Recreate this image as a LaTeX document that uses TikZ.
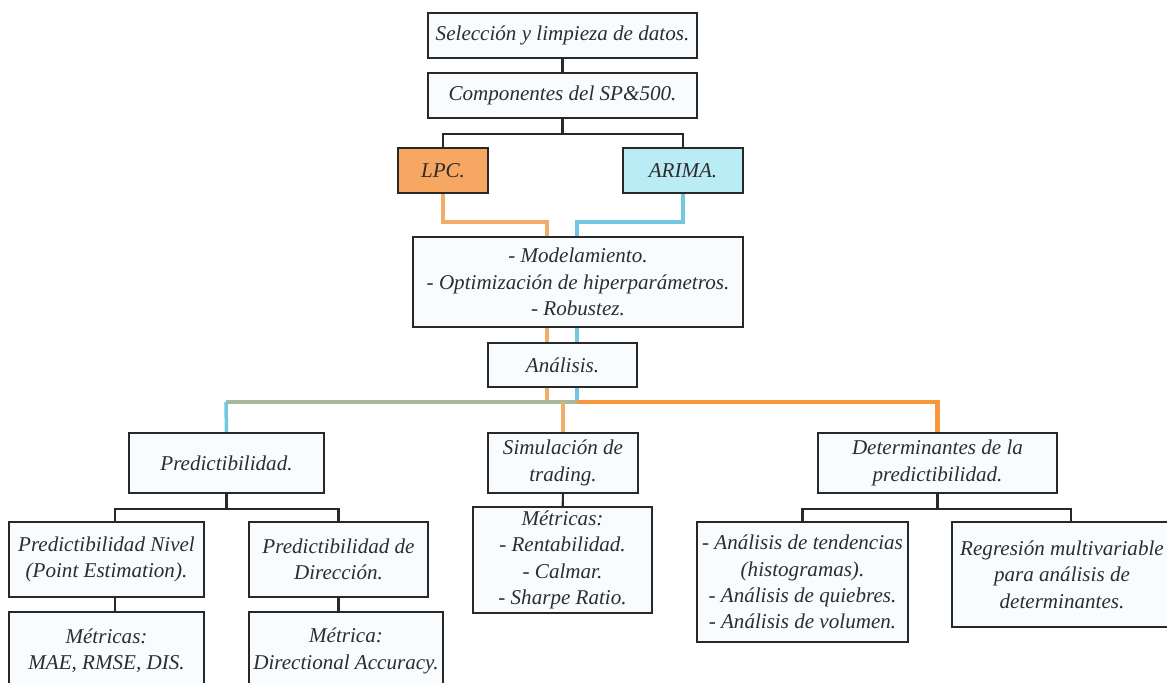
\documentclass[tikz,border=0pt]{standalone}
\usepackage{fontspec}
\setmainfont{Liberation Serif}
\usepackage{xcolor}
\usepackage{tikz}
\usetikzlibrary{backgrounds}
\definecolor{figline}{RGB}{40,40,40}
\definecolor{figtext}{RGB}{45,45,45}
\definecolor{boxfill}{RGB}{248,252,254}
\definecolor{lpcfill}{RGB}{246,168,98}
\definecolor{arifill}{RGB}{185,236,245}
\definecolor{lpcline}{RGB}{240,172,105}
\definecolor{ariline}{RGB}{115,200,225}
\definecolor{mixline}{RGB}{168,184,152}
\definecolor{outline}{RGB}{247,150,58}
\tikzset{
  bx/.style  ={draw=figline, line width=1.1pt, fill=boxfill, text=figtext, align=center,
               inner sep=2pt, font=\fontsize{12}{15}\selectfont\itshape},
  cn/.style  ={draw=figline, line width=1.2pt},
  lpcl/.style={draw=lpcline, line width=2pt},
  aril/.style={draw=ariline, line width=2pt},
  mixl/.style={draw=mixline, line width=2.4pt},
  outl/.style={draw=outline, line width=2.4pt},
}
\begin{document}
\begin{tikzpicture}[x=0.02cm,y=-0.02cm]
  \useasboundingbox (0,0) rectangle (1167,683);
  \node[bx,minimum width=5.38cm,minimum height=0.9cm] (sel) at (562.5,35.5) {Selección y limpieza de datos.};
  \node[bx,minimum width=5.38cm,minimum height=0.9cm] (comp) at (562.5,95.5) {Componentes del SP\&500.};
  \node[bx,fill=lpcfill,minimum width=1.8cm,minimum height=0.9cm] (lpc) at (443,170.5) {LPC.};
  \node[bx,fill=arifill,minimum width=2.4cm,minimum height=0.9cm] (arima) at (683,170.5) {ARIMA.};
  \node[bx,minimum width=6.6cm,minimum height=1.8cm] (model) at (578,282) {- Modelamiento.\\- Optimización de hiperparámetros.\\- Robustez.};
  \node[bx,minimum width=2.98cm,minimum height=0.88cm] (anal) at (562.5,365) {Análisis.};
  \node[bx,minimum width=3.9cm,minimum height=1.2cm] (pred) at (226.5,463) {Predictibilidad.};
  \node[bx,minimum width=3.0cm,minimum height=1.2cm] (sim) at (563,463) {Simulación de\\trading.};
  \node[bx,minimum width=4.78cm,minimum height=1.2cm] (det) at (937.5,463) {Determinantes de la\\predictibilidad.};
  \node[bx,minimum width=3.9cm,minimum height=1.5cm] (nivel) at (106.5,559.5) {Predictibilidad Nivel\\(Point Estimation).};
  \node[bx,minimum width=3.58cm,minimum height=1.5cm] (dir) at (338.5,559.5) {Predictibilidad de\\Dirección.};
  \node[bx,minimum width=3.58cm,minimum height=2.12cm] (met) at (562.5,560) {Métricas:\\- Rentabilidad.\\- Calmar.\\- Sharpe Ratio.};
  \node[bx,minimum width=4.22cm,minimum height=2.4cm] (tend) at (802.5,582) {- Análisis de tendencias\\(histogramas).\\- Análisis de quiebres.\\- Análisis de volumen.};
  \node[bx,minimum width=4.4cm,minimum height=2.1cm] (reg) at (1062,574.5) {Regresión multivariable\\para análisis de\\determinantes.};
  \node[bx,minimum width=3.9cm,minimum height=1.56cm] (mae) at (106.5,651) {Métricas:\\MAE, RMSE, DIS.};
  \node[bx,minimum width=3.88cm,minimum height=1.56cm] (dacc) at (346,651) {Métrica:\\Directional Accuracy.};
  \coordinate (lpcx) at (547,222);
  \coordinate (arix) at (577,222);
  \coordinate (busl) at (226,402);
  \begin{scope}[on background layer]
    \draw[cn] (sel) -- (comp);
    \draw[cn] (comp.south) -- ++(0,15) -| (lpc.north);
    \draw[cn] (comp.south) ++(0,15) -| (arima.north);
    \draw[lpcl] (lpc.south) |- (lpcx) -- (lpcx |- busl);
    \draw[aril] (arima.south) |- (arix) -- (arix |- busl);
    \draw[mixl] (arix |- busl) -- (busl);
    \draw[aril] (busl) -- (pred.north);
    \draw[outl] (arix |- busl) -| (det.north);
    \draw[lpcl] (sim.north |- busl) -- (sim.north);
    \draw[cn] (pred.south) -- ++(0,15) -| ([xshift=0.17cm]nivel.north);
    \draw[cn] (pred.south) ++(0,15) -| (dir.north);
    \draw[cn] ([xshift=0.17cm]nivel.south) -- ([xshift=0.17cm]mae.north);
    \draw[cn] (dir.south) -- (dir.south |- dacc.north);
    \draw[cn] (sim) -- (met);
    \draw[cn] (det.south) -- ++(0,15) -| (tend.north);
    \draw[cn] (det.south) ++(0,15) -| ([xshift=0.18cm]reg.north);
  \end{scope}
\end{tikzpicture}
\end{document}
